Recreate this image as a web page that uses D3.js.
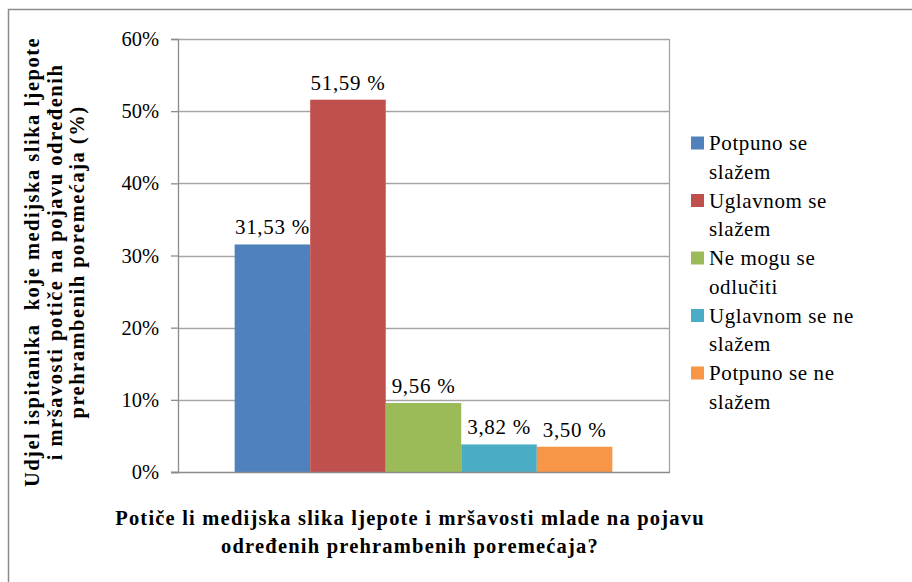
<!DOCTYPE html>
<html><head><meta charset="utf-8">
<script src="https://cdn.jsdelivr.net/npm/d3@7"></script>
<style>body{margin:0;background:#fff;font-family:"Liberation Serif",serif}svg{display:block}</style>
</head><body>
<script>
const categories = ["Potiče li medijska slika ljepote i mršavosti mlade na pojavu određenih prehrambenih poremećaja?"];
const seriesNames = ["Potpuno se slažem","Uglavnom se slažem","Ne mogu se odlučiti","Uglavnom se ne slažem","Potpuno se ne slažem"];
const seriesValues = [31.53, 51.59, 9.56, 3.82, 3.50];
const seriesColors = ["#4f81bd","#c0504d","#9bbb59","#4bacc6","#f79646"];
const yTicks = [0,10,20,30,40,50,60];
const legendLines = [["Potpuno se","slažem"],["Uglavnom se","slažem"],["Ne mogu se","odlučiti"],["Uglavnom se ne","slažem"],["Potpuno se ne","slažem"]];
const yTitleLines = ["Udjel ispitanika  koje medijska slika ljepote","i mršavosti potiče na pojavu određenih","prehrambenih poremećaja (%)"];
const xTitleLines = ["Potiče li medijska slika ljepote i mršavosti mlade na pojavu","određenih prehrambenih poremećaja?"];

const W=912,H=582;
const FONT='"Liberation Serif", serif';
const svg=d3.select("body").append("svg").attr("width",W).attr("height",H).style("font-family",FONT);
svg.append("path").attr("d",`M8.5,${H+5} V9.5 H${W+5}`).attr("fill","none").attr("stroke","#8c8c8c").attr("stroke-width",1.5);

const L=178,R=669,T=39,B=472;
const y=d3.scaleLinear().domain([0,60]).range([B,T]);
const x0=d3.scaleBand().domain(categories).range([L,R]).paddingOuter(0.15).paddingInner(0);
const x1=d3.scaleBand().domain(seriesNames).range([0,x0.bandwidth()]);

svg.append("g").selectAll("line").data(yTicks.filter(d=>d>0)).join("line")
  .attr("x1",L).attr("x2",R).attr("y1",d=>Math.round(y(d))+0.5).attr("y2",d=>Math.round(y(d))+0.5)
  .attr("stroke","#a6a6a6").attr("stroke-width",1.3);
svg.append("line").attr("x1",R+0.5).attr("x2",R+0.5).attr("y1",T).attr("y2",B).attr("stroke","#a6a6a6").attr("stroke-width",1.3);

const g=svg.append("g").attr("transform",`translate(${x0(categories[0])},0)`);
g.selectAll("rect").data(seriesValues).join("rect")
  .attr("x",(d,i)=>x1(seriesNames[i])).attr("width",x1.bandwidth())
  .attr("y",d=>y(d)).attr("height",d=>B-y(d)).attr("fill",(d,i)=>seriesColors[i]);
g.selectAll("text").data(seriesValues).join("text")
  .attr("x",(d,i)=>x1(seriesNames[i])+x1.bandwidth()/2).attr("y",d=>y(d)-10)
  .attr("text-anchor","middle").style("font-family",FONT).attr("font-size",21).attr("letter-spacing",0.7).attr("fill","#000")
  .text(d=>d.toFixed(2).replace(".",",")+" %");

const ya=svg.append("g").attr("transform",`translate(${L},0)`)
  .call(d3.axisLeft(y).tickValues(yTicks).tickFormat(d=>d+"%").tickSize(7).tickPadding(12));
ya.attr("font-family",null).style("font-family",FONT).attr("font-size",20.5);
ya.selectAll("path,line").attr("stroke","#8c8c8c").attr("stroke-width",1.3);
ya.selectAll("text").style("font-family",FONT).attr("font-size",20.5).attr("fill","#000");
svg.append("line").attr("x1",L-7).attr("x2",R+1).attr("y1",B+0.5).attr("y2",B+0.5).attr("stroke","#8c8c8c").attr("stroke-width",1.3);

const yt=svg.append("text").attr("transform","translate(0,262) rotate(-90)")
  .attr("text-anchor","middle").style("font-family",FONT).attr("font-weight","bold").attr("font-size",20.5).attr("letter-spacing",1.5);
yTitleLines.forEach((t,i)=>yt.append("tspan").attr("x",0).attr("y",39+i*22.5).attr("xml:space","preserve").text(t));

const xt=svg.append("text").attr("text-anchor","middle").style("font-family",FONT).attr("font-weight","bold").attr("font-size",20.5).attr("letter-spacing",1.2);
xTitleLines.forEach((t,i)=>xt.append("tspan").attr("x",410).attr("y",525+i*28).text(t));

const lg=svg.append("g");
legendLines.forEach((lines,i)=>{
  const cy=143+i*57.5;
  lg.append("rect").attr("x",691).attr("y",cy-6.5).attr("width",13).attr("height",13).attr("fill",seriesColors[i]);
  lines.forEach((t,j)=>lg.append("text").attr("x",709).attr("y",cy+7+j*28.5)
    .style("font-family",FONT).attr("font-size",21).attr("letter-spacing",0.6).attr("fill","#000").text(t));
});
</script>
</body></html>
